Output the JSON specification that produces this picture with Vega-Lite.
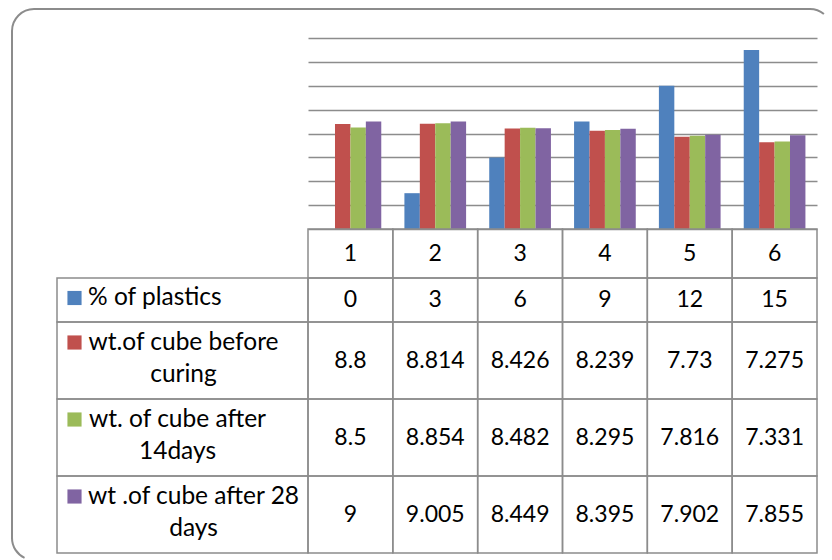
{
  "$schema": "https://vega.github.io/schema/vega-lite/v6.json",
  "background": "white",
  "padding": {"left": 12, "top": 9, "right": 0, "bottom": 0},
  "autosize": {"type": "none"},
  "width": 820,
  "height": 551,
  "view": {"stroke": "#8c8c8c", "strokeWidth": 2, "cornerRadius": 22, "strokeDash": [791, 1346.6, 566.6, 10]},
  "datasets": {
    "weights": [
      {"col": 1, "series": "% of plastics", "value": 0},
      {"col": 2, "series": "% of plastics", "value": 3},
      {"col": 3, "series": "% of plastics", "value": 6},
      {"col": 4, "series": "% of plastics", "value": 9},
      {"col": 5, "series": "% of plastics", "value": 12},
      {"col": 6, "series": "% of plastics", "value": 15},
      {"col": 1, "series": "wt.of cube before curing", "value": 8.8},
      {"col": 2, "series": "wt.of cube before curing", "value": 8.814},
      {"col": 3, "series": "wt.of cube before curing", "value": 8.426},
      {"col": 4, "series": "wt.of cube before curing", "value": 8.239},
      {"col": 5, "series": "wt.of cube before curing", "value": 7.73},
      {"col": 6, "series": "wt.of cube before curing", "value": 7.275},
      {"col": 1, "series": "wt. of cube after 14days", "value": 8.5},
      {"col": 2, "series": "wt. of cube after 14days", "value": 8.854},
      {"col": 3, "series": "wt. of cube after 14days", "value": 8.482},
      {"col": 4, "series": "wt. of cube after 14days", "value": 8.295},
      {"col": 5, "series": "wt. of cube after 14days", "value": 7.816},
      {"col": 6, "series": "wt. of cube after 14days", "value": 7.331},
      {"col": 1, "series": "wt .of cube after 28 days", "value": 9},
      {"col": 2, "series": "wt .of cube after 28 days", "value": 9.005},
      {"col": 3, "series": "wt .of cube after 28 days", "value": 8.449},
      {"col": 4, "series": "wt .of cube after 28 days", "value": 8.395},
      {"col": 5, "series": "wt .of cube after 28 days", "value": 7.902},
      {"col": 6, "series": "wt .of cube after 28 days", "value": 7.855}
    ],
    "cols": [{"col": 1}, {"col": 2}, {"col": 3}, {"col": 4}, {"col": 5}, {"col": 6}],
    "labels": [
      {"series": "% of plastics"},
      {"series": "wt.of cube before curing"},
      {"series": "wt. of cube after 14days"},
      {"series": "wt .of cube after 28 days"}
    ]
  },
  "resolve": {"scale": {"x": "independent", "y": "independent"}},
  "layer": [
    {
      "data": {"name": "weights"},
      "mark": {"type": "bar"},
      "encoding": {
        "x": {"field": "col", "type": "ordinal", "scale": {"range": [296, 805], "paddingInner": 0.2727, "paddingOuter": 0.1364}, "axis": null},
        "xOffset": {"field": "series", "type": "nominal", "scale": {"domain": ["% of plastics", "wt.of cube before curing", "wt. of cube after 14days", "wt .of cube after 28 days"]}},
        "y": {"field": "value", "type": "quantitative", "scale": {"domain": [0, 16], "nice": false, "range": [220, 29]},
              "axis": {"values": [0, 2, 4, 6, 8, 10, 12, 14, 16], "grid": true, "gridColor": "#8c8c8c", "gridWidth": 1.5, "domain": false, "ticks": false, "labels": false, "title": null}},
        "color": {"field": "series", "type": "nominal",
                  "scale": {"domain": ["% of plastics", "wt.of cube before curing", "wt. of cube after 14days", "wt .of cube after 28 days"],
                            "range": ["#4F81BD", "#C0504D", "#9BBB59", "#8064A2"]},
                  "legend": null}
      }
    },
    {
      "data": {"name": "cols"},
      "encoding": {
        "x": {"field": "col", "type": "ordinal", "scale": {"range": [296, 805], "paddingInner": 0, "paddingOuter": 0}, "axis": null},
        "y": {"datum": "header", "type": "nominal", "scale": {"range": [220, 269], "paddingInner": 0, "paddingOuter": 0}, "axis": null}
      },
      "layer": [
        {"mark": {"type": "rect", "filled": false, "stroke": "#8c8c8c", "strokeWidth": 1.5}},
        {"mark": {"type": "text"}, "encoding": {"text": {"field": "col", "type": "nominal"}}}
      ]
    },
    {
      "data": {"name": "weights"},
      "transform": [{"filter": "datum.series == '% of plastics'"}],
      "encoding": {
        "x": {"field": "col", "type": "ordinal", "scale": {"range": [296, 805], "paddingInner": 0, "paddingOuter": 0}, "axis": null},
        "y": {"field": "series", "type": "nominal", "scale": {"range": [269, 313], "paddingInner": 0, "paddingOuter": 0}, "axis": null}
      },
      "layer": [
        {"mark": {"type": "rect", "filled": false, "stroke": "#8c8c8c", "strokeWidth": 1.5}},
        {"mark": {"type": "text"}, "encoding": {"text": {"field": "value", "type": "nominal"}}}
      ]
    },
    {
      "data": {"name": "weights"},
      "transform": [{"filter": "datum.series != '% of plastics'"}],
      "encoding": {
        "x": {"field": "col", "type": "ordinal", "scale": {"range": [296, 805], "paddingInner": 0, "paddingOuter": 0}, "axis": null},
        "y": {"field": "series", "type": "nominal", "sort": null,
              "scale": {"domain": ["wt.of cube before curing", "wt. of cube after 14days", "wt .of cube after 28 days"], "range": [313, 544], "paddingInner": 0, "paddingOuter": 0}, "axis": null}
      },
      "layer": [
        {"mark": {"type": "rect", "filled": false, "stroke": "#8c8c8c", "strokeWidth": 1.5}},
        {"mark": {"type": "text"}, "encoding": {"text": {"field": "value", "type": "nominal"}}}
      ]
    },
    {
      "data": {"name": "labels"},
      "transform": [{"filter": "datum.series == '% of plastics'"}],
      "encoding": {
        "x": {"datum": "label", "type": "nominal", "scale": {"range": [45, 296], "paddingInner": 0, "paddingOuter": 0}, "axis": null},
        "y": {"field": "series", "type": "nominal", "scale": {"range": [269, 313], "paddingInner": 0, "paddingOuter": 0}, "axis": null}
      },
      "layer": [
        {"mark": {"type": "rect", "filled": false, "stroke": "#8c8c8c", "strokeWidth": 1.5}},
        {"mark": {"type": "point", "shape": "square", "filled": true, "size": 200, "opacity": 1, "strokeWidth": 0, "xOffset": -108, "yOffset": -2},
         "encoding": {"color": {"field": "series", "type": "nominal", "legend": null}}},
        {"mark": {"type": "text", "align": "left", "baseline": "alphabetic", "dx": -94.5, "dy": 5, "fontSize": 24.5},
         "encoding": {"text": {"field": "series", "type": "nominal"}}}
      ]
    },
    {
      "data": {"name": "labels"},
      "transform": [{"filter": "datum.series != '% of plastics'"}],
      "encoding": {
        "x": {"datum": "label", "type": "nominal", "scale": {"range": [45, 296], "paddingInner": 0, "paddingOuter": 0}, "axis": null},
        "y": {"field": "series", "type": "nominal", "sort": null,
              "scale": {"domain": ["wt.of cube before curing", "wt. of cube after 14days", "wt .of cube after 28 days"], "range": [313, 544], "paddingInner": 0, "paddingOuter": 0}, "axis": null}
      },
      "layer": [
        {"mark": {"type": "rect", "filled": false, "stroke": "#8c8c8c", "strokeWidth": 1.5}},
        {"mark": {"type": "point", "shape": "square", "filled": true, "size": 200, "opacity": 1, "strokeWidth": 0, "xOffset": -108, "yOffset": -18},
         "encoding": {"color": {"field": "series", "type": "nominal", "legend": null}}},
        {"transform": [{"filter": "datum.series == 'wt.of cube before curing'"}],
         "mark": {"type": "text", "align": "center", "baseline": "alphabetic", "dx": 1, "dy": -10.5, "lineHeight": 32, "fontSize": 24.5},
         "encoding": {"text": {"value": ["wt.of cube before", "curing"]}}},
        {"transform": [{"filter": "datum.series == 'wt. of cube after 14days'"}],
         "mark": {"type": "text", "align": "center", "baseline": "alphabetic", "dx": -5, "dy": -10.8, "lineHeight": 32, "fontSize": 24.5},
         "encoding": {"text": {"value": ["wt. of cube after", "14days"]}}},
        {"transform": [{"filter": "datum.series == 'wt .of cube after 28 days'"}],
         "mark": {"type": "text", "align": "center", "baseline": "alphabetic", "dx": 11, "dy": -11, "lineHeight": 32, "fontSize": 24.5},
         "encoding": {"text": {"value": ["wt .of cube after 28", "days"]}}}
      ]
    }
  ],
  "config": {
    "text": {"font": "Lato", "fontSize": 23, "color": "#000000"}
  }
}
